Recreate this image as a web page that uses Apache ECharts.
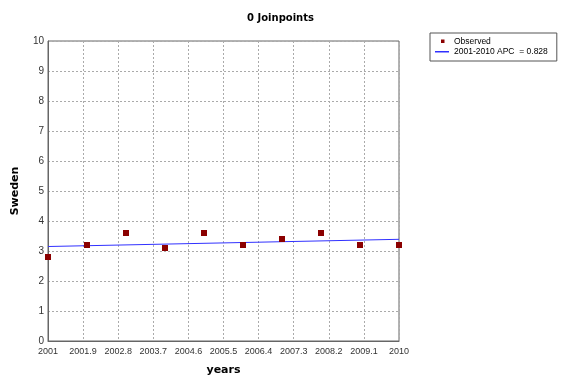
<!DOCTYPE html>
<html>
<head>
<meta charset="utf-8">
<script src="https://cdn.jsdelivr.net/npm/echarts@6/dist/echarts.min.js"></script>
<style>
  html, body { margin: 0; padding: 0; background: #fff; }
  #chart_box { width: 561px; height: 375px; }
</style>
</head>
<body>
<div id="chart_box"></div>
<script>
// observed rates per year
var years = [2001, 2002, 2003, 2004, 2005, 2006, 2007, 2008, 2009, 2010];
var observed = [2.8, 3.2, 3.6, 3.1, 3.6, 3.2, 3.4, 3.6, 3.2, 3.2];
// fitted joinpoint line, ends only
var fitYears = [2001, 2010];
var fitValues = [3.15, 3.39];
var baseYear = 2001;

window.onload = function () {
    var myChart = echarts.init(document.getElementById("chart_box"));

    var obsData = years.map(function (y, i) { return [y - baseYear, observed[i]]; });
    var fitData = fitYears.map(function (y, i) { return [y - baseYear, fitValues[i]]; });

    var option = {
        animation: false,
        textStyle: { fontFamily: 'Liberation Sans' },
        title: {
            text: '0 Joinpoints',
            left: 'center',
            top: 8,
            textStyle: { fontSize: 10, fontWeight: 'bold', color: '#000', fontFamily: 'DejaVu Sans' }
        },
        legend: {
            orient: 'vertical',
            left: 430,
            top: 33,
            itemGap: 1,
            itemWidth: 14,
            itemHeight: 8,
            padding: [4, 9, 5, 5],
            borderColor: '#555',
            borderWidth: 1,
            textStyle: { fontSize: 8.5, color: '#000' },
            data: [
                { name: 'Observed', icon: 'path://M0,0 M14,8 M6,2 h3.5 v3.5 h-3.5 z' },
                { name: '2001-2010 APC  = 0.828', icon: 'path://M0,0 M14,8 M0,3.5 h14 v1.5 h-14 z' }
            ]
        },
        grid: {
            left: 48, right: 162, top: 41, bottom: 34,
            outerBoundsMode: 'none',
            show: true,
            borderColor: '#666',
            borderWidth: 1
        },
        xAxis: {
            type: 'value',
            min: 0,
            max: 9,
            interval: 0.9,
            name: 'years',
            nameLocation: 'middle',
            nameGap: 24,
            nameTextStyle: { fontWeight: 'bold', fontSize: 11, color: '#000', fontFamily: 'DejaVu Sans' },
            axisLine: { lineStyle: { color: '#666' } },
            axisTick: { show: false },
            axisLabel: {
                fontSize: 9, color: '#333', margin: 6,
                formatter: function (v) { return String(Math.round((baseYear + v) * 10) / 10); }
            },
            splitLine: { lineStyle: { color: '#aaa', type: [2, 2] } }
        },
        yAxis: {
            type: 'value',
            min: 0,
            max: 10,
            interval: 1,
            name: 'Sweden',
            nameLocation: 'middle',
            nameGap: 27,
            nameTextStyle: { fontWeight: 'bold', fontSize: 11, color: '#000', fontFamily: 'DejaVu Sans' },
            axisLine: { show: true, lineStyle: { color: '#666' } },
            axisTick: { show: false },
            axisLabel: { fontSize: 10, color: '#333', margin: 4 },
            splitLine: { lineStyle: { color: '#aaa', type: [2, 2] } }
        },
        series: [
            {
                name: 'Observed',
                type: 'scatter',
                symbol: 'rect',
                symbolSize: 6,
                itemStyle: { color: '#8b0000', opacity: 1 },
                data: obsData,
                z: 3
            },
            {
                name: '2001-2010 APC  = 0.828',
                type: 'line',
                symbol: 'none',
                lineStyle: { color: '#3030ff', width: 1 },
                itemStyle: { color: '#3030ff' },
                data: fitData,
                z: 2
            }
        ]
    };
    myChart.setOption(option);
};
</script>
</body>
</html>
